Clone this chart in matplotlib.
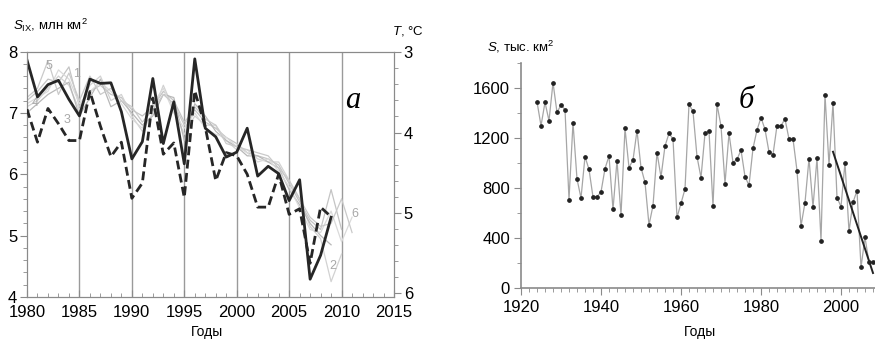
import numpy as np
import matplotlib.pyplot as plt
from matplotlib.ticker import MultipleLocator

plt.rcParams['font.family'] = ['Liberation Sans', 'DejaVu Sans']
plt.rcParams['mathtext.fontset'] = 'custom'
plt.rcParams['mathtext.rm'] = 'Liberation Sans'
plt.rcParams['mathtext.it'] = 'Liberation Sans:italic'

# --- panel a: sea ice area (S) and temperature (T) ---
years_a = np.arange(1980, 2010)
s_obs = [7.86, 7.26, 7.46, 7.53, 7.22, 6.95, 7.55, 7.48, 7.49, 7.02,
         6.25, 6.53, 7.56, 6.50, 7.18, 6.17, 7.88, 6.75, 6.61, 6.28,
         6.36, 6.75, 5.97, 6.13, 6.01, 5.57, 5.91, 4.29, 4.68, 5.30]
t_obs = [3.71, 4.12, 3.70, 3.89, 4.10, 4.10, 3.49, 3.92, 4.30, 4.12,
         4.82, 4.63, 3.57, 4.27, 4.13, 4.81, 3.48, 3.93, 4.60, 4.25,
         4.29, 4.52, 4.93, 4.93, 4.52, 5.02, 4.95, 5.63, 4.93, 5.05]

years_m = np.arange(1980, 2012)
nan = np.nan
model_runs = {
    '1': [7.20, 7.35, 7.55, 7.50, 7.75, 7.10, 7.35, 7.45, 7.30, 7.25, 7.05, 6.95, 7.10, 7.35, 7.20, 6.85,
          7.05, 6.85, 6.75, 6.60, 6.50, 6.35, 6.30, 6.25, 6.15, 5.85, 5.55, 5.25, 5.10, 5.75, 5.10, nan],
    '2': [7.10, 7.20, 7.40, 7.60, 7.45, 7.05, 7.45, 7.60, 7.20, 7.30, 6.95, 6.70, 7.00, 7.45, 7.05, 6.65,
          6.95, 6.80, 6.80, 6.55, 6.40, 6.40, 6.25, 6.20, 6.20, 5.90, 5.60, 5.15, 4.95, 4.25, 4.70, nan],
    '3': [7.00, 7.15, 7.30, 7.40, 7.50, 6.95, 7.25, 7.55, 7.10, 7.20, 7.00, 6.80, 6.95, 7.30, 7.25, 6.55,
          7.15, 6.95, 6.70, 6.55, 6.45, 6.30, 6.30, 6.20, 6.10, 5.75, 5.50, 5.20, 5.00, 4.85, nan, nan],
    '4': [7.15, 7.25, 7.35, 7.70, 7.55, 7.15, 7.35, 7.50, 7.35, 7.15, 6.90, 6.75, 7.15, 7.40, 7.00, 6.75,
          7.00, 6.75, 6.65, 6.60, 6.45, 6.35, 6.20, 6.25, 6.05, 5.80, 5.45, 5.10, 5.05, 5.40, 4.90, 5.30],
    '5': [7.25, 7.40, 7.85, 7.30, 7.65, 7.20, 7.60, 7.30, 7.40, 7.20, 7.10, 6.85, 7.05, 7.30, 7.15, 6.80,
          7.10, 6.90, 6.80, 6.50, 6.45, 6.40, 6.35, 6.30, 6.10, 5.90, 5.60, 5.30, 5.15, 5.20, 5.60, 5.05],
}
run_colors = ['#c4c4c4', '#d2d2d2', '#b8b8b8', '#dadada', '#cacaca']
run_labels = [('5', 1982.1, 7.76), ('1', 1984.7, 7.63), ('3', 1983.8, 6.88),
              ('4', 1980.8, 7.16), ('2', 2009.2, 4.50), ('6', 2011.3, 5.36)]

# --- panel б: long series ---
years_b = np.arange(1924, 2009)
s_long = [1490, 1298, 1485, 1338, 1643, 1405, 1464, 1427, 707, 1323,
          872, 720, 1051, 949, 728, 730, 768, 955, 1056, 629,
          1019, 584, 1277, 963, 1024, 1259, 963, 845, 504, 659,
          1083, 888, 1136, 1237, 1192, 565, 677, 792, 1469, 1413,
          1051, 883, 1237, 1256, 656, 1469, 1296, 835, 1237, 1003,
          1029, 1104, 891, 821, 1117, 1264, 1363, 1269, 1088, 1067,
          1299, 1299, 1352, 1192, 1192, 939, 496, 683, 1035, 648,
          1038, 379, 1547, 984, 1480, 723, 651, 1003, 453, 685,
          779, 165, 405, 205, 205]
trend_years = [1998, 2008]
trend_vals = [1090, 120]

fig = plt.figure(figsize=(8.75, 3.42), dpi=100)
W, H = 875, 342
spine_c = '#8a8a8a'

ax = fig.add_axes([27 / W, 1 - 297 / H, (394 - 27) / W, (297 - 51.5) / H])
for x in range(1985, 2015, 5):
    ax.axvline(x, color='#9a9a9a', lw=1.0, zorder=0)
for (name, vals), c in zip(model_runs.items(), run_colors):
    ax.plot(years_m, vals, color=c, lw=0.9, zorder=1)
for txt, x, y in run_labels:
    ax.text(x, y, txt, color='#a8a8a8', fontsize=9, ha='center', va='center')
ax.plot(years_a, s_obs, color='#262626', lw=2.0, zorder=4)
ax.set_xlim(1980, 2015)
ax.set_ylim(4, 8)
ax.xaxis.set_major_locator(MultipleLocator(5))
ax.xaxis.set_minor_locator(MultipleLocator(1))
ax.yaxis.set_major_locator(MultipleLocator(1))
ax.yaxis.set_minor_locator(MultipleLocator(0.2))
ax.tick_params(axis='x', which='both', direction='in', color=spine_c, labelsize=12, pad=6)
ax.tick_params(axis='x', which='major', length=5)
ax.tick_params(axis='x', which='minor', length=3)
ax.tick_params(axis='y', which='both', direction='out', color=spine_c, labelsize=12, pad=2)
ax.tick_params(axis='y', which='major', length=5)
ax.tick_params(axis='y', which='minor', length=3)
for s in ax.spines.values():
    s.set_color(spine_c)

axt = ax.twinx()
axt.plot(years_a, t_obs, color='#262626', lw=2.0, ls=(0, (3.2, 1.6)), zorder=3)
axt.set_ylim(6.05, 2.99)
axt.yaxis.set_major_locator(MultipleLocator(1))
axt.yaxis.set_minor_locator(MultipleLocator(0.2))
axt.tick_params(axis='y', which='both', direction='out', color=spine_c, labelsize=12, pad=2)
axt.tick_params(axis='y', which='major', length=5)
axt.tick_params(axis='y', which='minor', length=3)
for s in axt.spines.values():
    s.set_color(spine_c)

fig.text(13 / W, 1 - 25 / H, r'$S_{\mathrm{IX}}$, млн км$^2$', fontsize=9.5, va='center', ha='left')
fig.text(392 / W, 1 - 31 / H, r'$T$, °C', fontsize=9.5, va='center', ha='left')
fig.text(207 / W, 1 - 332 / H, 'Годы', fontsize=10, va='center', ha='center')
fig.text(353 / W, 1 - 101 / H, 'а', family='Liberation Serif', style='italic', fontsize=22,
         va='center', ha='center')

# panel б
ax2 = fig.add_axes([521 / W, 1 - 288 / H, (875 - 521) / W, (288 - 63) / H])
ax2.plot(years_b, s_long, color='#a6a6a6', lw=0.9, marker='o', ms=2.4,
         mfc='#222222', mec='#222222', clip_on=False, zorder=2)
ax2.plot(trend_years, trend_vals, color='#222222', lw=1.4, zorder=3, clip_on=False)
ax2.set_xlim(1920, 2008.5)
ax2.set_ylim(0, 1800)
ax2.set_xticks([1920, 1940, 1960, 1980, 2000])
ax2.xaxis.set_minor_locator(MultipleLocator(2))
ax2.yaxis.set_major_locator(MultipleLocator(400))
ax2.yaxis.set_minor_locator(MultipleLocator(200))
ax2.tick_params(axis='both', which='both', direction='out', color=spine_c, labelsize=12, pad=3)
ax2.tick_params(axis='x', pad=4)
ax2.tick_params(axis='both', which='major', length=5)
ax2.tick_params(axis='both', which='minor', length=3)
for side in ['top', 'right']:
    ax2.spines[side].set_visible(False)
for side in ['left', 'bottom']:
    ax2.spines[side].set_color(spine_c)
    ax2.spines[side].set_linewidth(1.2)

fig.text(487 / W, 1 - 47 / H, r'$S$, тыс. км$^2$', fontsize=9.5, va='center', ha='left')
fig.text(700 / W, 1 - 332 / H, 'Годы', fontsize=10, va='center', ha='center')
fig.text(746 / W, 1 - 101 / H, 'б', family='Liberation Serif', style='italic', fontsize=22,
         va='center', ha='center')

fig.savefig('out.png', dpi=100)
